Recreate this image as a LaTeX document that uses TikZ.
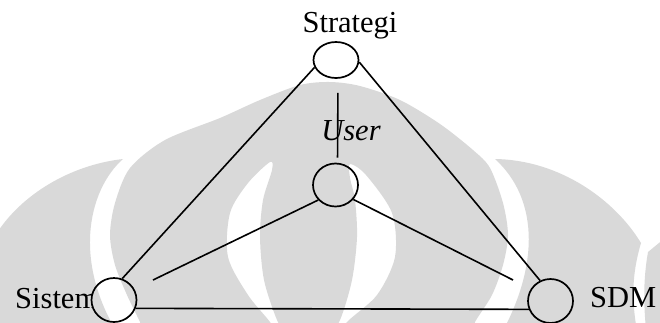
\documentclass[tikz,border=0pt]{standalone}
\usepackage{fontspec}
\setmainfont{Liberation Serif}
\usetikzlibrary{shapes.geometric}
\definecolor{wmgray}{HTML}{D9D9D9}

\begin{document}
\begin{tikzpicture}[x=1pt,y=-1pt,
  elps/.style={ellipse,draw,fill=white,line width=1.7pt,inner sep=0pt,minimum width=45pt,minimum height=43pt},
  lbl/.style={font=\fontsize{30.5}{36}\selectfont,inner sep=0pt,anchor=base},
  conn/.style={line width=1.6pt}]
 \useasboundingbox (0,0) rectangle (660,322);
 % labels
 \node[lbl] (stratlbl) at (350,32) {Strategi};
 \node[lbl,font=\fontsize{30.5}{36}\selectfont\itshape] (userlbl) at (351,140) {User};
 \node[lbl,anchor=base west] (sistenlbl) at (15,308) {Sistem};
 \node[lbl,anchor=base west] (sdmlbl) at (590,307) {SDM};
 % circles
 \node[elps,minimum height=36pt] (strat) at (336,60) {};
 \node[elps] (user) at (335.5,185) {};
 \node[elps,minimum height=44pt] (sisten) at (114,300) {};
 \node[elps,minimum height=44pt] (sdm) at (550.5,301) {};
 % connectors
 \coordinate (uleft) at (153,280);
 \coordinate (uright) at (513,280);
 \draw[conn] (strat.199) -- (sisten.69);
 \draw[conn] (strat.-5) -- (sdm.117);
 \draw[conn] (sisten.-21) -- (sdm.201);
 \draw[conn,shorten <=14pt,shorten >=5pt] ([xshift=2pt]strat.south) -- ([xshift=2pt]user.north);
 \draw[conn] (user.221) -- (uleft);
 \draw[conn] (user.-39) -- (uright);
 % watermark
 \begin{scope}[blend mode=multiply]
  \fill[wmgray] (-5,236) .. controls (20,195) and (70,165) .. (123,159)
    .. controls (88,190) and (70,265) .. (125,345) -- (-5,345) -- cycle;
  \fill[wmgray,even odd rule]
    plot[smooth cycle] coordinates {(150,345) (140,322) (127,295) (115,265) (110,235) (115,203) (130,168)
      (165,140) (220,118) (260,100) (300,85) (330,82) (360,86) (400,100) (440,124) (473,150)
      (490,168) (503,203) (508,235) (503,265) (492,295) (475,322) (465,345) (310,360)}
    plot[smooth cycle] coordinates {(270,162) (248,183) (230,213) (228,257) (248,295) (270,322) (285,345)
      (291,345) (277,320) (264,280) (260,237) (263,200) (272,170)}
    plot[smooth cycle] coordinates {(350,164) (366,175) (392,213) (395,257) (377,295) (347,322) (330,345)
      (324,345) (340,320) (352,280) (357,237) (355,200) (350,178)};
  \fill[wmgray] (495,159) .. controls (560,160) and (615,200) .. (641,243)
    .. controls (630,280) and (632,310) .. (640,345) -- (495,345)
    .. controls (540,270) and (540,200) .. (495,159) -- cycle;
  \fill[wmgray] (648,252) .. controls (643,280) and (643,310) .. (648,345) -- (665,345) -- (665,238) -- cycle;
 \end{scope}
\end{tikzpicture}
\end{document}
